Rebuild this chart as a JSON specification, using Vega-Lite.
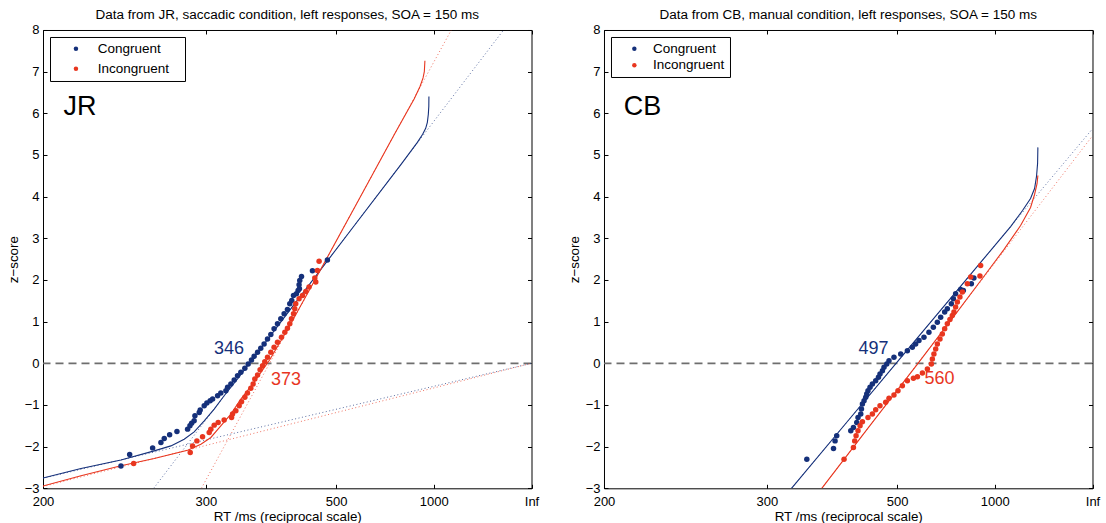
{
  "$schema": "https://vega.github.io/schema/vega-lite/v6.json",
  "background": "white",
  "padding": {"left": 5, "top": 8, "right": 5, "bottom": 2},
  "bounds": "flush",
  "spacing": 72,
  "config": {
    "font": "Liberation Sans",
    "view": {"stroke": "black", "strokeWidth": 1},
    "title": {"fontSize": 13.5, "fontWeight": "normal", "color": "black", "offset": 2, "anchor": "middle"},
    "axis": {"domain": false, "grid": false, "tickSize": -4, "tickColor": "black", "labelFontSize": 13, "labelColor": "black", "titleFontSize": 13.4, "titleFontWeight": "normal", "titleColor": "black", "labelFlush": false, "labelOverlap": false},
    "legend": {"orient": "top-left", "offset": 7, "strokeColor": "black", "fillColor": "white", "padding": 5, "symbolType": "circle", "symbolSize": 20, "symbolStrokeWidth": 0, "labelFontSize": 13.5, "labelColor": "black", "cornerRadius": 0}
  },
  "datasets": {
    "zero": [{"z": 0}],
    "points": [
      {"subject": "JR", "condition": "Congruent", "rate": 4.202, "z": -2.463},
      {"subject": "JR", "condition": "Congruent", "rate": 4.113, "z": -2.189},
      {"subject": "JR", "condition": "Congruent", "rate": 3.878, "z": -2.030},
      {"subject": "JR", "condition": "Congruent", "rate": 3.793, "z": -1.900},
      {"subject": "JR", "condition": "Congruent", "rate": 3.759, "z": -1.804},
      {"subject": "JR", "condition": "Congruent", "rate": 3.704, "z": -1.717},
      {"subject": "JR", "condition": "Congruent", "rate": 3.629, "z": -1.635},
      {"subject": "JR", "condition": "Congruent", "rate": 3.520, "z": -1.580},
      {"subject": "JR", "condition": "Congruent", "rate": 3.496, "z": -1.501},
      {"subject": "JR", "condition": "Congruent", "rate": 3.479, "z": -1.436},
      {"subject": "JR", "condition": "Congruent", "rate": 3.453, "z": -1.380},
      {"subject": "JR", "condition": "Congruent", "rate": 3.445, "z": -1.260},
      {"subject": "JR", "condition": "Congruent", "rate": 3.401, "z": -1.178},
      {"subject": "JR", "condition": "Congruent", "rate": 3.391, "z": -1.123},
      {"subject": "JR", "condition": "Congruent", "rate": 3.350, "z": -1.019},
      {"subject": "JR", "condition": "Congruent", "rate": 3.323, "z": -0.954},
      {"subject": "JR", "condition": "Congruent", "rate": 3.289, "z": -0.899},
      {"subject": "JR", "condition": "Congruent", "rate": 3.264, "z": -0.858},
      {"subject": "JR", "condition": "Congruent", "rate": 3.213, "z": -0.779},
      {"subject": "JR", "condition": "Congruent", "rate": 3.180, "z": -0.714},
      {"subject": "JR", "condition": "Congruent", "rate": 3.128, "z": -0.658},
      {"subject": "JR", "condition": "Congruent", "rate": 3.111, "z": -0.576},
      {"subject": "JR", "condition": "Congruent", "rate": 3.077, "z": -0.497},
      {"subject": "JR", "condition": "Congruent", "rate": 3.043, "z": -0.401},
      {"subject": "JR", "condition": "Congruent", "rate": 3.009, "z": -0.297},
      {"subject": "JR", "condition": "Congruent", "rate": 2.975, "z": -0.215},
      {"subject": "JR", "condition": "Congruent", "rate": 2.934, "z": -0.119},
      {"subject": "JR", "condition": "Congruent", "rate": 2.900, "z": -0.016},
      {"subject": "JR", "condition": "Congruent", "rate": 2.866, "z": 0.081},
      {"subject": "JR", "condition": "Congruent", "rate": 2.839, "z": 0.170},
      {"subject": "JR", "condition": "Congruent", "rate": 2.804, "z": 0.266},
      {"subject": "JR", "condition": "Congruent", "rate": 2.771, "z": 0.362},
      {"subject": "JR", "condition": "Congruent", "rate": 2.737, "z": 0.466},
      {"subject": "JR", "condition": "Congruent", "rate": 2.702, "z": 0.586},
      {"subject": "JR", "condition": "Congruent", "rate": 2.668, "z": 0.690},
      {"subject": "JR", "condition": "Congruent", "rate": 2.635, "z": 0.827},
      {"subject": "JR", "condition": "Congruent", "rate": 2.600, "z": 0.947},
      {"subject": "JR", "condition": "Congruent", "rate": 2.566, "z": 1.067},
      {"subject": "JR", "condition": "Congruent", "rate": 2.532, "z": 1.188},
      {"subject": "JR", "condition": "Congruent", "rate": 2.498, "z": 1.291},
      {"subject": "JR", "condition": "Congruent", "rate": 2.474, "z": 1.428},
      {"subject": "JR", "condition": "Congruent", "rate": 2.454, "z": 1.508},
      {"subject": "JR", "condition": "Congruent", "rate": 2.436, "z": 1.628},
      {"subject": "JR", "condition": "Congruent", "rate": 2.406, "z": 1.669},
      {"subject": "JR", "condition": "Congruent", "rate": 2.389, "z": 1.749},
      {"subject": "JR", "condition": "Congruent", "rate": 2.375, "z": 1.789},
      {"subject": "JR", "condition": "Congruent", "rate": 2.379, "z": 1.886},
      {"subject": "JR", "condition": "Congruent", "rate": 2.372, "z": 1.989},
      {"subject": "JR", "condition": "Congruent", "rate": 2.354, "z": 2.085},
      {"subject": "JR", "condition": "Congruent", "rate": 2.242, "z": 2.223},
      {"subject": "JR", "condition": "Congruent", "rate": 2.089, "z": 2.480},
      {"subject": "JR", "condition": "Incongruent", "rate": 4.072, "z": -2.406},
      {"subject": "JR", "condition": "Incongruent", "rate": 3.493, "z": -2.141},
      {"subject": "JR", "condition": "Incongruent", "rate": 3.469, "z": -1.982},
      {"subject": "JR", "condition": "Incongruent", "rate": 3.425, "z": -1.862},
      {"subject": "JR", "condition": "Incongruent", "rate": 3.367, "z": -1.765},
      {"subject": "JR", "condition": "Incongruent", "rate": 3.299, "z": -1.659},
      {"subject": "JR", "condition": "Incongruent", "rate": 3.282, "z": -1.580},
      {"subject": "JR", "condition": "Incongruent", "rate": 3.248, "z": -1.484},
      {"subject": "JR", "condition": "Incongruent", "rate": 3.207, "z": -1.419},
      {"subject": "JR", "condition": "Incongruent", "rate": 3.146, "z": -1.363},
      {"subject": "JR", "condition": "Incongruent", "rate": 3.070, "z": -1.298},
      {"subject": "JR", "condition": "Incongruent", "rate": 3.060, "z": -1.219},
      {"subject": "JR", "condition": "Incongruent", "rate": 3.026, "z": -1.140},
      {"subject": "JR", "condition": "Incongruent", "rate": 2.992, "z": -1.019},
      {"subject": "JR", "condition": "Incongruent", "rate": 2.968, "z": -0.923},
      {"subject": "JR", "condition": "Incongruent", "rate": 2.934, "z": -0.817},
      {"subject": "JR", "condition": "Incongruent", "rate": 2.907, "z": -0.714},
      {"subject": "JR", "condition": "Incongruent", "rate": 2.873, "z": -0.600},
      {"subject": "JR", "condition": "Incongruent", "rate": 2.849, "z": -0.497},
      {"subject": "JR", "condition": "Incongruent", "rate": 2.832, "z": -0.377},
      {"subject": "JR", "condition": "Incongruent", "rate": 2.804, "z": -0.280},
      {"subject": "JR", "condition": "Incongruent", "rate": 2.778, "z": -0.153},
      {"subject": "JR", "condition": "Incongruent", "rate": 2.753, "z": -0.057},
      {"subject": "JR", "condition": "Incongruent", "rate": 2.730, "z": 0.040},
      {"subject": "JR", "condition": "Incongruent", "rate": 2.702, "z": 0.146},
      {"subject": "JR", "condition": "Incongruent", "rate": 2.668, "z": 0.266},
      {"subject": "JR", "condition": "Incongruent", "rate": 2.635, "z": 0.386},
      {"subject": "JR", "condition": "Incongruent", "rate": 2.600, "z": 0.507},
      {"subject": "JR", "condition": "Incongruent", "rate": 2.559, "z": 0.627},
      {"subject": "JR", "condition": "Incongruent", "rate": 2.525, "z": 0.747},
      {"subject": "JR", "condition": "Incongruent", "rate": 2.498, "z": 0.844},
      {"subject": "JR", "condition": "Incongruent", "rate": 2.474, "z": 0.947},
      {"subject": "JR", "condition": "Incongruent", "rate": 2.457, "z": 1.067},
      {"subject": "JR", "condition": "Incongruent", "rate": 2.436, "z": 1.188},
      {"subject": "JR", "condition": "Incongruent", "rate": 2.423, "z": 1.308},
      {"subject": "JR", "condition": "Incongruent", "rate": 2.413, "z": 1.428},
      {"subject": "JR", "condition": "Incongruent", "rate": 2.379, "z": 1.549},
      {"subject": "JR", "condition": "Incongruent", "rate": 2.344, "z": 1.628},
      {"subject": "JR", "condition": "Incongruent", "rate": 2.310, "z": 1.724},
      {"subject": "JR", "condition": "Incongruent", "rate": 2.277, "z": 1.830},
      {"subject": "JR", "condition": "Incongruent", "rate": 2.208, "z": 1.951},
      {"subject": "JR", "condition": "Incongruent", "rate": 2.218, "z": 2.047},
      {"subject": "JR", "condition": "Incongruent", "rate": 2.191, "z": 2.230},
      {"subject": "JR", "condition": "Incongruent", "rate": 2.174, "z": 2.447},
      {"subject": "CB", "condition": "Congruent", "rate": 2.924, "z": -2.302},
      {"subject": "CB", "condition": "Congruent", "rate": 2.651, "z": -2.045},
      {"subject": "CB", "condition": "Congruent", "rate": 2.635, "z": -1.862},
      {"subject": "CB", "condition": "Congruent", "rate": 2.618, "z": -1.741},
      {"subject": "CB", "condition": "Congruent", "rate": 2.474, "z": -1.621},
      {"subject": "CB", "condition": "Congruent", "rate": 2.447, "z": -1.539},
      {"subject": "CB", "condition": "Congruent", "rate": 2.413, "z": -1.419},
      {"subject": "CB", "condition": "Congruent", "rate": 2.400, "z": -1.298},
      {"subject": "CB", "condition": "Congruent", "rate": 2.372, "z": -1.219},
      {"subject": "CB", "condition": "Congruent", "rate": 2.365, "z": -1.099},
      {"subject": "CB", "condition": "Congruent", "rate": 2.355, "z": -0.978},
      {"subject": "CB", "condition": "Congruent", "rate": 2.338, "z": -0.899},
      {"subject": "CB", "condition": "Congruent", "rate": 2.321, "z": -0.817},
      {"subject": "CB", "condition": "Congruent", "rate": 2.311, "z": -0.738},
      {"subject": "CB", "condition": "Congruent", "rate": 2.298, "z": -0.658},
      {"subject": "CB", "condition": "Congruent", "rate": 2.277, "z": -0.576},
      {"subject": "CB", "condition": "Congruent", "rate": 2.253, "z": -0.497},
      {"subject": "CB", "condition": "Congruent", "rate": 2.219, "z": -0.418},
      {"subject": "CB", "condition": "Congruent", "rate": 2.191, "z": -0.336},
      {"subject": "CB", "condition": "Congruent", "rate": 2.175, "z": -0.256},
      {"subject": "CB", "condition": "Congruent", "rate": 2.150, "z": -0.177},
      {"subject": "CB", "condition": "Congruent", "rate": 2.134, "z": -0.095},
      {"subject": "CB", "condition": "Congruent", "rate": 2.106, "z": -0.016},
      {"subject": "CB", "condition": "Congruent", "rate": 2.083, "z": 0.064},
      {"subject": "CB", "condition": "Congruent", "rate": 2.032, "z": 0.146},
      {"subject": "CB", "condition": "Congruent", "rate": 1.963, "z": 0.225},
      {"subject": "CB", "condition": "Congruent", "rate": 1.895, "z": 0.304},
      {"subject": "CB", "condition": "Congruent", "rate": 1.844, "z": 0.386},
      {"subject": "CB", "condition": "Congruent", "rate": 1.810, "z": 0.466},
      {"subject": "CB", "condition": "Congruent", "rate": 1.776, "z": 0.545},
      {"subject": "CB", "condition": "Congruent", "rate": 1.725, "z": 0.627},
      {"subject": "CB", "condition": "Congruent", "rate": 1.674, "z": 0.747},
      {"subject": "CB", "condition": "Congruent", "rate": 1.629, "z": 0.868},
      {"subject": "CB", "condition": "Congruent", "rate": 1.588, "z": 0.988},
      {"subject": "CB", "condition": "Congruent", "rate": 1.554, "z": 1.108},
      {"subject": "CB", "condition": "Congruent", "rate": 1.513, "z": 1.229},
      {"subject": "CB", "condition": "Congruent", "rate": 1.486, "z": 1.308},
      {"subject": "CB", "condition": "Congruent", "rate": 1.445, "z": 1.428},
      {"subject": "CB", "condition": "Congruent", "rate": 1.424, "z": 1.549},
      {"subject": "CB", "condition": "Congruent", "rate": 1.401, "z": 1.669},
      {"subject": "CB", "condition": "Congruent", "rate": 1.350, "z": 1.773},
      {"subject": "CB", "condition": "Congruent", "rate": 1.322, "z": 1.749},
      {"subject": "CB", "condition": "Congruent", "rate": 1.240, "z": 1.910},
      {"subject": "CB", "condition": "Congruent", "rate": 1.214, "z": 2.047},
      {"subject": "CB", "condition": "Incongruent", "rate": 2.543, "z": -2.302},
      {"subject": "CB", "condition": "Incongruent", "rate": 2.447, "z": -2.020},
      {"subject": "CB", "condition": "Incongruent", "rate": 2.434, "z": -1.862},
      {"subject": "CB", "condition": "Incongruent", "rate": 2.420, "z": -1.741},
      {"subject": "CB", "condition": "Incongruent", "rate": 2.400, "z": -1.621},
      {"subject": "CB", "condition": "Incongruent", "rate": 2.379, "z": -1.501},
      {"subject": "CB", "condition": "Incongruent", "rate": 2.355, "z": -1.404},
      {"subject": "CB", "condition": "Incongruent", "rate": 2.298, "z": -1.298},
      {"subject": "CB", "condition": "Incongruent", "rate": 2.253, "z": -1.219},
      {"subject": "CB", "condition": "Incongruent", "rate": 2.219, "z": -1.116},
      {"subject": "CB", "condition": "Incongruent", "rate": 2.175, "z": -1.019},
      {"subject": "CB", "condition": "Incongruent", "rate": 2.117, "z": -0.937},
      {"subject": "CB", "condition": "Incongruent", "rate": 2.083, "z": -0.841},
      {"subject": "CB", "condition": "Incongruent", "rate": 2.032, "z": -0.762},
      {"subject": "CB", "condition": "Incongruent", "rate": 1.991, "z": -0.658},
      {"subject": "CB", "condition": "Incongruent", "rate": 1.946, "z": -0.538},
      {"subject": "CB", "condition": "Incongruent", "rate": 1.895, "z": -0.418},
      {"subject": "CB", "condition": "Incongruent", "rate": 1.833, "z": -0.360},
      {"subject": "CB", "condition": "Incongruent", "rate": 1.792, "z": -0.321},
      {"subject": "CB", "condition": "Incongruent", "rate": 1.741, "z": -0.232},
      {"subject": "CB", "condition": "Incongruent", "rate": 1.690, "z": -0.136},
      {"subject": "CB", "condition": "Incongruent", "rate": 1.649, "z": -0.016},
      {"subject": "CB", "condition": "Incongruent", "rate": 1.639, "z": 0.105},
      {"subject": "CB", "condition": "Incongruent", "rate": 1.623, "z": 0.225},
      {"subject": "CB", "condition": "Incongruent", "rate": 1.605, "z": 0.345},
      {"subject": "CB", "condition": "Incongruent", "rate": 1.588, "z": 0.466},
      {"subject": "CB", "condition": "Incongruent", "rate": 1.561, "z": 0.586},
      {"subject": "CB", "condition": "Incongruent", "rate": 1.537, "z": 0.706},
      {"subject": "CB", "condition": "Incongruent", "rate": 1.513, "z": 0.827},
      {"subject": "CB", "condition": "Incongruent", "rate": 1.486, "z": 0.947},
      {"subject": "CB", "condition": "Incongruent", "rate": 1.459, "z": 1.051},
      {"subject": "CB", "condition": "Incongruent", "rate": 1.435, "z": 1.147},
      {"subject": "CB", "condition": "Incongruent", "rate": 1.418, "z": 1.229},
      {"subject": "CB", "condition": "Incongruent", "rate": 1.401, "z": 1.349},
      {"subject": "CB", "condition": "Incongruent", "rate": 1.383, "z": 1.469},
      {"subject": "CB", "condition": "Incongruent", "rate": 1.357, "z": 1.590},
      {"subject": "CB", "condition": "Incongruent", "rate": 1.332, "z": 1.710},
      {"subject": "CB", "condition": "Incongruent", "rate": 1.281, "z": 1.910},
      {"subject": "CB", "condition": "Incongruent", "rate": 1.247, "z": 2.071},
      {"subject": "CB", "condition": "Incongruent", "rate": 1.152, "z": 2.095},
      {"subject": "CB", "condition": "Incongruent", "rate": 1.145, "z": 2.350}
    ],
    "fits": [
      {"subject": "JR", "condition": "Congruent", "rate": 5.000, "z": -2.752},
      {"subject": "JR", "condition": "Congruent", "rate": 4.611, "z": -2.526},
      {"subject": "JR", "condition": "Congruent", "rate": 4.202, "z": -2.319},
      {"subject": "JR", "condition": "Congruent", "rate": 3.862, "z": -2.102},
      {"subject": "JR", "condition": "Congruent", "rate": 3.691, "z": -1.982},
      {"subject": "JR", "condition": "Congruent", "rate": 3.555, "z": -1.821},
      {"subject": "JR", "condition": "Congruent", "rate": 3.453, "z": -1.645},
      {"subject": "JR", "condition": "Congruent", "rate": 3.350, "z": -1.380},
      {"subject": "JR", "condition": "Congruent", "rate": 3.248, "z": -1.099},
      {"subject": "JR", "condition": "Congruent", "rate": 3.146, "z": -0.779},
      {"subject": "JR", "condition": "Congruent", "rate": 3.009, "z": -0.377},
      {"subject": "JR", "condition": "Congruent", "rate": 2.464, "z": 1.308},
      {"subject": "JR", "condition": "Congruent", "rate": 1.850, "z": 3.193},
      {"subject": "JR", "condition": "Congruent", "rate": 1.339, "z": 4.762},
      {"subject": "JR", "condition": "Congruent", "rate": 1.168, "z": 5.303},
      {"subject": "JR", "condition": "Congruent", "rate": 1.114, "z": 5.496},
      {"subject": "JR", "condition": "Congruent", "rate": 1.083, "z": 5.640},
      {"subject": "JR", "condition": "Congruent", "rate": 1.066, "z": 5.785},
      {"subject": "JR", "condition": "Congruent", "rate": 1.056, "z": 5.977},
      {"subject": "JR", "condition": "Congruent", "rate": 1.051, "z": 6.170},
      {"subject": "JR", "condition": "Congruent", "rate": 1.050, "z": 6.403},
      {"subject": "JR", "condition": "Incongruent", "rate": 5.000, "z": -2.945},
      {"subject": "JR", "condition": "Incongruent", "rate": 4.611, "z": -2.699},
      {"subject": "JR", "condition": "Incongruent", "rate": 4.202, "z": -2.458},
      {"subject": "JR", "condition": "Incongruent", "rate": 3.862, "z": -2.285},
      {"subject": "JR", "condition": "Incongruent", "rate": 3.520, "z": -2.085},
      {"subject": "JR", "condition": "Incongruent", "rate": 3.384, "z": -1.941},
      {"subject": "JR", "condition": "Incongruent", "rate": 3.282, "z": -1.780},
      {"subject": "JR", "condition": "Incongruent", "rate": 3.180, "z": -1.501},
      {"subject": "JR", "condition": "Incongruent", "rate": 3.077, "z": -1.219},
      {"subject": "JR", "condition": "Incongruent", "rate": 2.975, "z": -0.858},
      {"subject": "JR", "condition": "Incongruent", "rate": 2.839, "z": -0.450},
      {"subject": "JR", "condition": "Incongruent", "rate": 2.681, "z": 0.080},
      {"subject": "JR", "condition": "Incongruent", "rate": 2.500, "z": 0.800},
      {"subject": "JR", "condition": "Incongruent", "rate": 2.200, "z": 2.070},
      {"subject": "JR", "condition": "Incongruent", "rate": 1.800, "z": 3.790},
      {"subject": "JR", "condition": "Incongruent", "rate": 1.400, "z": 5.510},
      {"subject": "JR", "condition": "Incongruent", "rate": 1.200, "z": 6.350},
      {"subject": "JR", "condition": "Incongruent", "rate": 1.140, "z": 6.650},
      {"subject": "JR", "condition": "Incongruent", "rate": 1.110, "z": 6.850},
      {"subject": "JR", "condition": "Incongruent", "rate": 1.097, "z": 7.000},
      {"subject": "JR", "condition": "Incongruent", "rate": 1.091, "z": 7.260},
      {"subject": "CB", "condition": "Congruent", "rate": 3.081, "z": -3.000},
      {"subject": "CB", "condition": "Congruent", "rate": 2.500, "z": -1.373},
      {"subject": "CB", "condition": "Congruent", "rate": 2.000, "z": 0.027},
      {"subject": "CB", "condition": "Congruent", "rate": 1.500, "z": 1.427},
      {"subject": "CB", "condition": "Congruent", "rate": 1.145, "z": 2.421},
      {"subject": "CB", "condition": "Congruent", "rate": 0.838, "z": 3.282},
      {"subject": "CB", "condition": "Congruent", "rate": 0.716, "z": 3.667},
      {"subject": "CB", "condition": "Congruent", "rate": 0.634, "z": 3.956},
      {"subject": "CB", "condition": "Congruent", "rate": 0.593, "z": 4.196},
      {"subject": "CB", "condition": "Congruent", "rate": 0.573, "z": 4.485},
      {"subject": "CB", "condition": "Congruent", "rate": 0.562, "z": 4.798},
      {"subject": "CB", "condition": "Congruent", "rate": 0.559, "z": 5.183},
      {"subject": "CB", "condition": "Incongruent", "rate": 2.771, "z": -3.000},
      {"subject": "CB", "condition": "Incongruent", "rate": 2.300, "z": -1.562},
      {"subject": "CB", "condition": "Incongruent", "rate": 1.786, "z": 0.000},
      {"subject": "CB", "condition": "Incongruent", "rate": 1.400, "z": 1.187},
      {"subject": "CB", "condition": "Incongruent", "rate": 1.145, "z": 1.982},
      {"subject": "CB", "condition": "Incongruent", "rate": 0.907, "z": 2.728},
      {"subject": "CB", "condition": "Incongruent", "rate": 0.736, "z": 3.306},
      {"subject": "CB", "condition": "Incongruent", "rate": 0.634, "z": 3.739},
      {"subject": "CB", "condition": "Incongruent", "rate": 0.593, "z": 4.052},
      {"subject": "CB", "condition": "Incongruent", "rate": 0.567, "z": 4.316},
      {"subject": "CB", "condition": "Incongruent", "rate": 0.559, "z": 4.509}
    ],
    "components": [
      {"subject": "JR", "condition": "Congruent", "part": "main", "rate": 3.867, "z": -3},
      {"subject": "JR", "condition": "Congruent", "part": "main", "rate": 0.286, "z": 8},
      {"subject": "JR", "condition": "Congruent", "part": "early", "rate": 5, "z": -2.759},
      {"subject": "JR", "condition": "Congruent", "part": "early", "rate": 0, "z": 0},
      {"subject": "JR", "condition": "Incongruent", "part": "main", "rate": 3.379, "z": -3},
      {"subject": "JR", "condition": "Incongruent", "part": "main", "rate": 0.821, "z": 8},
      {"subject": "JR", "condition": "Incongruent", "part": "early", "rate": 5, "z": -2.957},
      {"subject": "JR", "condition": "Incongruent", "part": "early", "rate": 0, "z": 0},
      {"subject": "CB", "condition": "Congruent", "part": "main", "rate": 3.081, "z": -3},
      {"subject": "CB", "condition": "Congruent", "part": "main", "rate": 0, "z": 5.628},
      {"subject": "CB", "condition": "Incongruent", "part": "main", "rate": 2.771, "z": -3},
      {"subject": "CB", "condition": "Incongruent", "part": "main", "rate": 0, "z": 5.460}
    ],
    "labels": [
      {"subject": "JR", "text": "346", "group": "Congruent", "kind": "median", "rate": 3.096, "z": 0.355},
      {"subject": "JR", "text": "373", "group": "Incongruent", "kind": "median", "rate": 2.513, "z": -0.401},
      {"subject": "JR", "text": "JR", "group": "name", "kind": "name", "rate": 4.622, "z": 6.158},
      {"subject": "CB", "text": "497", "group": "Congruent", "kind": "median", "rate": 2.242, "z": 0.355},
      {"subject": "CB", "text": "560", "group": "Incongruent", "kind": "median", "rate": 1.566, "z": -0.365},
      {"subject": "CB", "text": "CB", "group": "name", "kind": "name", "rate": 4.606, "z": 6.158}
    ]
  },
  "resolve": {"scale": {"x": "independent", "y": "independent", "fill": "independent", "stroke": "independent", "color": "independent", "size": "independent"}},
  "hconcat": [
    {
      "width": 488.5, "height": 458.3,
      "title": {"text": "Data from JR, saccadic condition, left responses, SOA = 150 ms"},
      "layer": [
        {
          "data": {"name": "zero"},
          "mark": {"type": "rule", "color": "#6e6e6e", "strokeWidth": 1.8, "strokeDash": [8, 5]},
          "encoding": {"y": {"field": "z", "type": "quantitative", "scale": {"domain": [-3, 8], "nice": false}, "axis": null}}
        },
        {
          "data": {"name": "components"},
          "transform": [{"filter": "datum.subject === 'JR'"}],
          "mark": {"type": "line", "strokeWidth": 1, "strokeDash": [1, 2.5], "opacity": 0.7, "clip": true},
          "encoding": {
            "x": {"field": "rate", "type": "quantitative", "scale": {"domain": [0, 5], "reverse": true, "nice": false, "zero": false}, "axis": {"orient": "top", "values": [5, 3.3333333333, 2, 1, 0], "labels": false, "title": null}},
            "y": {"field": "z", "type": "quantitative", "scale": {"domain": [-3, 8], "nice": false}, "axis": {"orient": "right", "values": [-3, -2, -1, 0, 1, 2, 3, 4, 5, 6, 7, 8], "labels": false, "title": null}},
            "stroke": {"field": "condition", "type": "nominal", "scale": {"domain": ["Incongruent", "Congruent"], "range": ["#e8361f", "#15307a"]}, "legend": null},
            "detail": {"field": "part"}
          }
        },
        {
          "data": {"name": "fits"},
          "transform": [{"filter": "datum.subject === 'JR'"}],
          "mark": {"type": "line", "strokeWidth": 1.1, "clip": true},
          "encoding": {
            "x": {"field": "rate", "type": "quantitative", "scale": {"domain": [0, 5], "reverse": true, "nice": false, "zero": false}, "axis": {"orient": "bottom", "values": [5, 3.3333333333, 2, 1, 0], "labelExpr": "datum.value == 0 ? 'Inf' : format(1000 / datum.value, '.0f')", "title": "RT /ms (reciprocal scale)", "labelPadding": 11, "titlePadding": 1}},
            "y": {"field": "z", "type": "quantitative", "scale": {"domain": [-3, 8], "nice": false}, "axis": {"orient": "left", "values": [-3, -2, -1, 0, 1, 2, 3, 4, 5, 6, 7, 8], "title": "z\u2212score", "labelPadding": 8, "titlePadding": 4}},
            "stroke": {"field": "condition", "type": "nominal", "scale": {"domain": ["Incongruent", "Congruent"], "range": ["#e8361f", "#15307a"]}, "legend": null}
          }
        },
        {
          "data": {"name": "points"},
          "transform": [{"filter": "datum.subject === 'JR'"}],
          "mark": {"type": "point", "shape": "circle", "filled": true, "size": 30, "opacity": 1, "strokeWidth": 0},
          "encoding": {
            "x": {"field": "rate", "type": "quantitative", "axis": null},
            "y": {"field": "z", "type": "quantitative", "axis": null},
            "color": {"field": "condition", "type": "nominal", "scale": {"domain": ["Congruent", "Incongruent"], "range": ["#15307a", "#e8361f"]},
              "legend": {"title": null, "rowPadding": 5, "symbolOffset": 14.2, "labelOffset": 15, "labelExpr": "datum.label + '\u2800'"}}
          }
        },
        {
          "data": {"name": "labels"},
          "transform": [{"filter": "datum.subject === 'JR'"}],
          "mark": {"type": "text", "baseline": "middle", "align": "center"},
          "encoding": {
            "x": {"field": "rate", "type": "quantitative", "axis": null},
            "y": {"field": "z", "type": "quantitative", "axis": null},
            "text": {"field": "text"},
            "fill": {"field": "group", "type": "nominal", "scale": {"domain": ["Congruent", "Incongruent", "name"], "range": ["#15307a", "#e8361f", "black"]}, "legend": null},
            "size": {"field": "kind", "type": "nominal", "scale": {"domain": ["median", "name"], "range": [18, 27]}, "legend": null}
          }
        }
      ],
      "resolve": {"axis": {"x": "independent", "y": "independent"}}
    },
    {
      "width": 488.5, "height": 458.3,
      "title": {"text": "Data from CB, manual condition, left responses, SOA = 150 ms"},
      "layer": [
        {
          "data": {"name": "zero"},
          "mark": {"type": "rule", "color": "#6e6e6e", "strokeWidth": 1.8, "strokeDash": [8, 5]},
          "encoding": {"y": {"field": "z", "type": "quantitative", "scale": {"domain": [-3, 8], "nice": false}, "axis": null}}
        },
        {
          "data": {"name": "components"},
          "transform": [{"filter": "datum.subject === 'CB'"}],
          "mark": {"type": "line", "strokeWidth": 1, "strokeDash": [1, 2.5], "opacity": 0.7, "clip": true},
          "encoding": {
            "x": {"field": "rate", "type": "quantitative", "scale": {"domain": [0, 5], "reverse": true, "nice": false, "zero": false}, "axis": {"orient": "top", "values": [5, 3.3333333333, 2, 1, 0], "labels": false, "title": null}},
            "y": {"field": "z", "type": "quantitative", "scale": {"domain": [-3, 8], "nice": false}, "axis": {"orient": "right", "values": [-3, -2, -1, 0, 1, 2, 3, 4, 5, 6, 7, 8], "labels": false, "title": null}},
            "stroke": {"field": "condition", "type": "nominal", "scale": {"domain": ["Incongruent", "Congruent"], "range": ["#e8361f", "#15307a"]}, "legend": null},
            "detail": {"field": "part"}
          }
        },
        {
          "data": {"name": "fits"},
          "transform": [{"filter": "datum.subject === 'CB'"}],
          "mark": {"type": "line", "strokeWidth": 1.1, "clip": true},
          "encoding": {
            "x": {"field": "rate", "type": "quantitative", "scale": {"domain": [0, 5], "reverse": true, "nice": false, "zero": false}, "axis": {"orient": "bottom", "values": [5, 3.3333333333, 2, 1, 0], "labelExpr": "datum.value == 0 ? 'Inf' : format(1000 / datum.value, '.0f')", "title": "RT /ms (reciprocal scale)", "labelPadding": 11, "titlePadding": 1}},
            "y": {"field": "z", "type": "quantitative", "scale": {"domain": [-3, 8], "nice": false}, "axis": {"orient": "left", "values": [-3, -2, -1, 0, 1, 2, 3, 4, 5, 6, 7, 8], "title": "z\u2212score", "labelPadding": 8, "titlePadding": 4}},
            "stroke": {"field": "condition", "type": "nominal", "scale": {"domain": ["Incongruent", "Congruent"], "range": ["#e8361f", "#15307a"]}, "legend": null}
          }
        },
        {
          "data": {"name": "points"},
          "transform": [{"filter": "datum.subject === 'CB'"}],
          "mark": {"type": "point", "shape": "circle", "filled": true, "size": 30, "opacity": 1, "strokeWidth": 0},
          "encoding": {
            "x": {"field": "rate", "type": "quantitative", "axis": null},
            "y": {"field": "z", "type": "quantitative", "axis": null},
            "color": {"field": "condition", "type": "nominal", "scale": {"domain": ["Congruent", "Incongruent"], "range": ["#15307a", "#e8361f"]},
              "legend": {"title": null, "rowPadding": 1.6, "symbolOffset": 11.6, "labelOffset": 11.9}}
          }
        },
        {
          "data": {"name": "labels"},
          "transform": [{"filter": "datum.subject === 'CB'"}],
          "mark": {"type": "text", "baseline": "middle", "align": "center"},
          "encoding": {
            "x": {"field": "rate", "type": "quantitative", "axis": null},
            "y": {"field": "z", "type": "quantitative", "axis": null},
            "text": {"field": "text"},
            "fill": {"field": "group", "type": "nominal", "scale": {"domain": ["Congruent", "Incongruent", "name"], "range": ["#15307a", "#e8361f", "black"]}, "legend": null},
            "size": {"field": "kind", "type": "nominal", "scale": {"domain": ["median", "name"], "range": [18, 27]}, "legend": null}
          }
        }
      ],
      "resolve": {"axis": {"x": "independent", "y": "independent"}}
    }
  ]
}
